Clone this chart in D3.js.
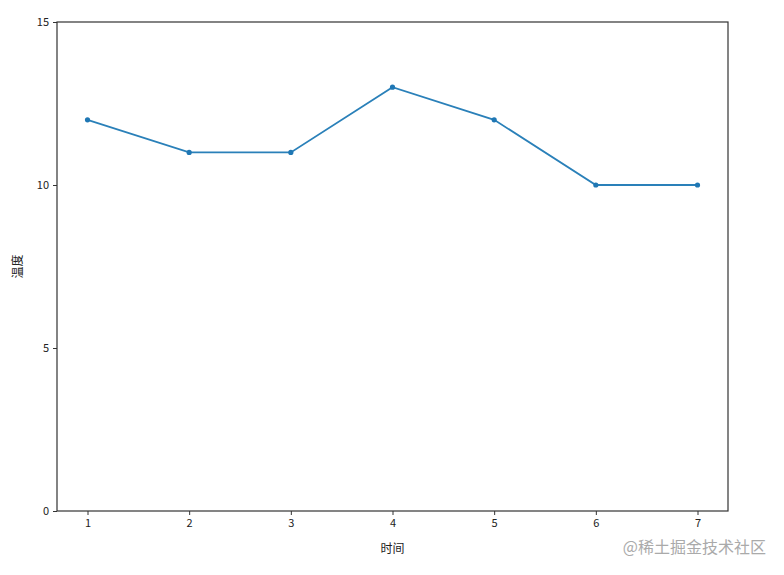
<!DOCTYPE html>
<html><head><meta charset="utf-8">
<script src="https://d3js.org/d3.v7.min.js"></script>
<style>body{margin:0;background:#fff;} svg{display:block;font-family:"Noto Sans CJK SC","DejaVu Sans",sans-serif;}</style>
</head><body>
<script>
const times = [1,2,3,4,5,6,7];
const temps = [12,11,11,13,12,10,10];
const yTicks = [0,5,10,15];
const xLabel = "时间";
const yLabel = "温度";
const watermark = "@稀土掘金技术社区";

const W=784,H=575;
const m={left:57,right:728,top:22,bottom:511};
const svg=d3.select("body").append("svg").attr("width",W).attr("height",H);
const x=d3.scaleLinear().domain([0.7,7.3]).range([m.left,m.right]);
const y=d3.scaleLinear().domain([0,15]).range([m.bottom,m.top]);

const gx=svg.append("g").attr("transform",`translate(0,${m.bottom})`)
 .call(d3.axisBottom(x).tickValues(times).tickFormat(d3.format("d")).tickSize(4).tickPadding(4));
const gy=svg.append("g").attr("transform",`translate(${m.left},0)`)
 .call(d3.axisLeft(y).tickValues(yTicks).tickSize(4).tickPadding(4));
[gx,gy].forEach(g=>{g.select(".domain").remove();g.selectAll("line").attr("stroke","#333");g.selectAll("text").attr("font-size",11).attr("fill","#222").attr("font-family","'Noto Sans CJK SC',sans-serif");});
svg.append("rect").attr("x",m.left).attr("y",m.top).attr("width",m.right-m.left).attr("height",m.bottom-m.top)
 .attr("fill","none").attr("stroke","#333").attr("stroke-width",1.2);

const line=d3.line().x((d,i)=>x(times[i])).y(d=>y(d));
svg.append("path").datum(temps).attr("d",line).attr("fill","none").attr("stroke","#2a80b9").attr("stroke-width",1.8);
svg.selectAll("circle.pt").data(temps).enter().append("circle").attr("cx",(d,i)=>x(times[i])).attr("cy",d=>y(d)).attr("r",2.6).attr("fill","#1f77b4");

svg.append("text").attr("x",(m.left+m.right)/2).attr("y",553).attr("text-anchor","middle").attr("font-size",12).attr("fill","#222").text(xLabel);
svg.append("text").attr("transform",`translate(22,${(m.top+m.bottom)/2}) rotate(-90)`).attr("text-anchor","middle").attr("font-size",12).attr("fill","#222").text(yLabel);
svg.append("text").attr("x",766).attr("y",553).attr("text-anchor","end").attr("font-size",16).attr("fill","#aaa").text(watermark);
</script>
</body></html>
